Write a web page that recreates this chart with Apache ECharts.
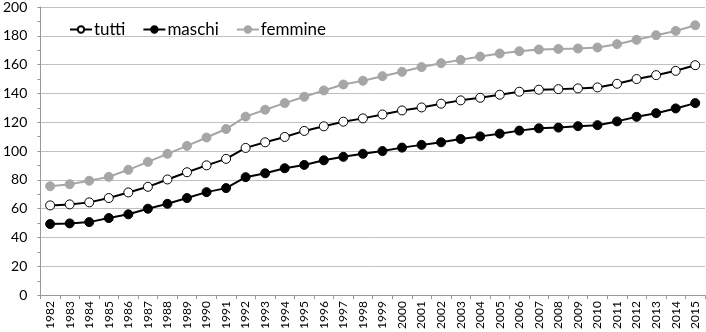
<!DOCTYPE html>
<html>
<head>
<meta charset="utf-8">
<script src="https://cdn.jsdelivr.net/npm/echarts@6/dist/echarts.min.js"></script>
<style>html,body{margin:0;padding:0;background:#fff}#c{width:706px;height:332px}</style>
</head>
<body>
<div id="c"></div>
<script>
const years = ['1982','1983','1984','1985','1986','1987','1988','1989','1990','1991','1992','1993','1994','1995','1996','1997','1998','1999','2000','2001','2002','2003','2004','2005','2006','2007','2008','2009','2010','2011','2012','2013','2014','2015'];
const tutti = [62.3,63.0,64.4,67.4,71.3,75.2,80.3,85.3,90.1,94.6,102.2,106.1,109.8,114.0,117.2,120.4,122.7,125.4,128.2,130.3,132.9,135.2,137.0,139.1,141.2,142.6,143.0,143.5,144.2,146.7,150.0,152.7,155.7,159.6];
const maschi = [49.4,49.8,50.7,53.5,56.1,60.0,63.4,67.4,71.5,74.3,81.9,84.6,88.1,90.4,93.6,96.0,98.1,100.0,102.4,104.3,106.1,108.4,110.2,112.1,114.2,115.8,116.3,117.3,118.0,120.6,123.8,126.3,129.6,133.3];
const femmine = [75.6,77.0,79.4,82.1,87.0,92.5,98.1,103.6,109.4,115.3,123.9,128.7,133.3,137.7,142.1,146.2,148.8,152.0,155.0,158.3,161.0,163.3,165.6,167.7,169.3,170.5,170.9,171.2,171.9,174.2,177.2,180.4,183.4,187.3];
const yTicks = {min: 0, max: 200, interval: 20};

const chart = echarts.init(document.getElementById('c'), null, {renderer: 'canvas'});
const FONT = 'Lato';
function mk(name, data, lineColor, fill) {
  return {
    name: name, type: 'line', data: data,
    symbol: 'circle', symbolSize: 9,
    lineStyle: {color: lineColor, width: 2},
    itemStyle: {color: fill, borderColor: lineColor, borderWidth: 1},
    emphasis: {disabled: true},
    animation: false
  };
}
chart.setOption({
  animation: false,
  grid: {left: 38, right: 1, top: 7, bottom: 36, containLabel: false},
  legend: {
    left: 64, top: 16, itemWidth: 22, itemHeight: 8, itemGap: 17,
    textStyle: {fontFamily: FONT, fontSize: 17, color: '#000', padding: [0,0,0,-3]},
    data: ['tutti', 'maschi', 'femmine']
  },
  xAxis: {
    type: 'category', data: years, boundaryGap: true,
    axisLine: {lineStyle: {color: '#999', width: 1}},
    axisTick: {show: true, alignWithLabel: false, length: 4, lineStyle: {color: '#999'}},
    axisLabel: {rotate: 90, interval: 0, fontFamily: FONT, fontSize: 12, color: '#000', margin: 6}
  },
  yAxis: {
    type: 'value', min: yTicks.min, max: yTicks.max, interval: yTicks.interval,
    axisLine: {show: true, lineStyle: {color: '#999', width: 1}},
    axisTick: {show: true, length: 3, lineStyle: {color: '#999'}},
    minorTick: {show: true, splitNumber: 2, length: 3, lineStyle: {color: '#999'}},
    splitLine: {show: true, lineStyle: {color: '#c0c0c0', width: 1}},
    axisLabel: {fontFamily: FONT, fontSize: 14, color: '#000', margin: 13}
  },
  series: [
    mk('tutti', tutti, '#000', '#fff'),
    mk('maschi', maschi, '#000', '#000'),
    mk('femmine', femmine, '#a6a6a6', '#a6a6a6')
  ]
});
</script>
</body>
</html>
